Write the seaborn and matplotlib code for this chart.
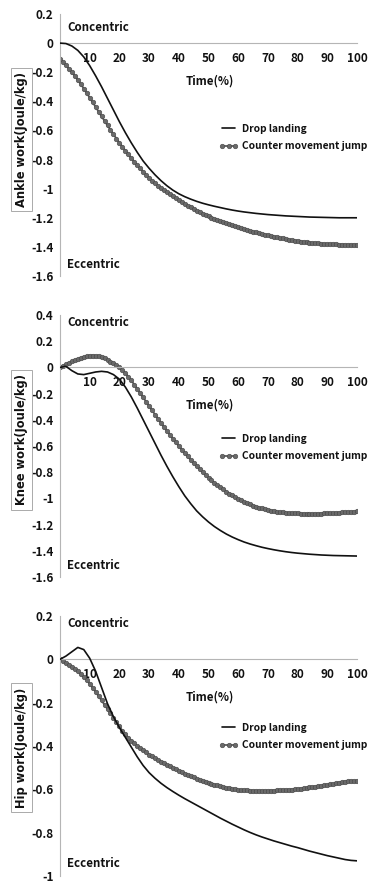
import matplotlib
matplotlib.use("Agg")
import matplotlib.pyplot as plt
import seaborn as sns
import pandas as pd

# ---------------- data ----------------
time_drop = list(range(0, 101, 2))
time_cmj = list(range(0, 101))

ankle_drop = [0, -0.003, -0.02, -0.05, -0.095, -0.155, -0.225, -0.30, -0.38, -0.46,
              -0.54, -0.615, -0.685, -0.75, -0.81, -0.86, -0.905, -0.945, -0.98, -1.01,
              -1.035, -1.055, -1.072, -1.087, -1.10, -1.111, -1.121, -1.13, -1.139, -1.147,
              -1.154, -1.16, -1.165, -1.17, -1.174, -1.178, -1.181, -1.184, -1.187, -1.189,
              -1.191, -1.193, -1.195, -1.196, -1.197, -1.198, -1.199, -1.2, -1.2, -1.2, -1.2]
ankle_cmj = [-0.110, -0.131, -0.153, -0.176, -0.200, -0.225,
             -0.253, -0.282, -0.312, -0.343, -0.375,
             -0.407, -0.439, -0.471, -0.503, -0.535,
             -0.566, -0.597, -0.627, -0.656, -0.685,
             -0.712, -0.739, -0.765, -0.790, -0.815,
             -0.838, -0.861, -0.883, -0.904, -0.925,
             -0.944, -0.962, -0.979, -0.995, -1.010,
             -1.025, -1.039, -1.053, -1.067, -1.080,
             -1.093, -1.105, -1.117, -1.129, -1.140,
             -1.151, -1.161, -1.171, -1.181, -1.190,
             -1.199, -1.207, -1.215, -1.223, -1.230,
             -1.237, -1.244, -1.251, -1.258, -1.265,
             -1.271, -1.277, -1.283, -1.289, -1.295,
             -1.300, -1.305, -1.310, -1.315, -1.320,
             -1.325, -1.329, -1.334, -1.338, -1.342,
             -1.346, -1.350, -1.353, -1.357, -1.360,
             -1.363, -1.365, -1.368, -1.370, -1.372,
             -1.374, -1.376, -1.377, -1.379, -1.380,
             -1.381, -1.382, -1.383, -1.384, -1.384,
             -1.385, -1.385, -1.385, -1.385, -1.385]

knee_drop = [0, 0.008, -0.025, -0.05, -0.055, -0.045, -0.035, -0.03, -0.035, -0.055,
             -0.09, -0.15, -0.225, -0.31, -0.40, -0.49, -0.58, -0.67, -0.755, -0.835,
             -0.91, -0.98, -1.04, -1.095, -1.14, -1.18, -1.215, -1.245, -1.272, -1.295,
             -1.315, -1.333, -1.348, -1.361, -1.373, -1.383, -1.392, -1.4, -1.407, -1.413,
             -1.418, -1.422, -1.426, -1.429, -1.432, -1.434, -1.436, -1.437, -1.438, -1.439, -1.44]
knee_cmj = [0.000, 0.012, 0.024, 0.035, 0.046, 0.056, 0.065, 0.073, 0.080, 0.086, 0.089,
            0.090, 0.088, 0.084, 0.077, 0.068, 0.057, 0.044, 0.030, 0.015,
            0.000, -0.020, -0.044, -0.071, -0.100, -0.131, -0.163, -0.196, -0.229, -0.262, -0.295,
            -0.328, -0.360, -0.392, -0.423, -0.454, -0.484, -0.514, -0.543, -0.572, -0.600,
            -0.627, -0.654, -0.680, -0.705, -0.730, -0.754, -0.777, -0.800, -0.822, -0.843,
            -0.862, -0.881, -0.899, -0.916, -0.932, -0.948, -0.963, -0.977, -0.991, -1.005,
            -1.016, -1.027, -1.037, -1.046, -1.055, -1.063, -1.070, -1.077, -1.083, -1.088,
            -1.093, -1.097, -1.101, -1.104, -1.107, -1.109, -1.111, -1.113, -1.114, -1.115,
            -1.116, -1.117, -1.117, -1.118, -1.118, -1.118, -1.117, -1.116, -1.115, -1.114,
            -1.112, -1.111, -1.110, -1.109, -1.107, -1.106, -1.104, -1.103, -1.101, -1.100]

hip_drop = [0, 0.015, 0.035, 0.055, 0.045, 0.005, -0.055, -0.13, -0.205, -0.265,
            -0.315, -0.36, -0.405, -0.45, -0.49, -0.523, -0.549, -0.572, -0.592, -0.61,
            -0.627, -0.643, -0.658, -0.673, -0.688, -0.703, -0.718, -0.733, -0.747, -0.761,
            -0.774, -0.787, -0.799, -0.81, -0.82, -0.829, -0.838, -0.846, -0.854, -0.862,
            -0.869, -0.877, -0.885, -0.892, -0.899, -0.906, -0.912, -0.918, -0.924, -0.928, -0.93]
hip_cmj = [0.000, -0.008, -0.016, -0.025, -0.035, -0.045, -0.056, -0.068, -0.081, -0.095, -0.113,
           -0.131, -0.150, -0.170, -0.190, -0.210, -0.230, -0.250, -0.270, -0.290, -0.310,
           -0.329, -0.346, -0.361, -0.375, -0.388, -0.399, -0.410, -0.420, -0.430, -0.440,
           -0.448, -0.456, -0.464, -0.472, -0.480, -0.487, -0.494, -0.501, -0.508, -0.515,
           -0.521, -0.527, -0.533, -0.539, -0.545, -0.550, -0.555, -0.560, -0.565, -0.570,
           -0.574, -0.578, -0.582, -0.586, -0.590, -0.593, -0.596, -0.598, -0.600, -0.602,
           -0.603, -0.604, -0.605, -0.606, -0.607, -0.607, -0.607, -0.607, -0.607, -0.607,
           -0.606, -0.606, -0.605, -0.605, -0.604, -0.603, -0.602, -0.601, -0.600, -0.599,
           -0.597, -0.595, -0.593, -0.591, -0.589, -0.587, -0.585, -0.583, -0.581, -0.579,
           -0.577, -0.575, -0.572, -0.569, -0.566, -0.564, -0.563, -0.563, -0.563, -0.563]

series_names = ["Drop landing", "Counter movement jump"]
y_labels = ["Ankle work(Joule/kg)", "Knee work(Joule/kg)", "Hip work(Joule/kg)"]
y_ticks = [[0.2, 0, -0.2, -0.4, -0.6, -0.8, -1, -1.2, -1.4, -1.6],
           [0.4, 0.2, 0, -0.2, -0.4, -0.6, -0.8, -1, -1.2, -1.4, -1.6],
           [0.2, 0, -0.2, -0.4, -0.6, -0.8, -1]]
x_ticks = [10, 20, 30, 40, 50, 60, 70, 80, 90, 100]
x_title = "Time(%)"
top_text = "Concentric"
bottom_text = "Eccentric"

panels = [(ankle_drop, ankle_cmj), (knee_drop, knee_cmj), (hip_drop, hip_cmj)]

# ---------------- style ----------------
sns.set_style("white")
TXT = ["Noto Sans CJK KR", "DejaVu Sans"]
plt.rcParams["font.family"] = TXT

fig = plt.figure(figsize=(3.73, 8.86), dpi=100)
W, H = 373, 886
boxes = [(60, 14, 276), (60, 315, 577), (60, 616, 876)]   # left, top, bottom in px
legend_y = [0.529, 0.494, 0.536]
ylab_y = [0.52, 0.523, 0.494]
conc_y = [0.95, 0.97, 0.972]
ecc_y = [0.042, 0.043, 0.047]

axis_grey = "#b5b5b5"
ink = "#111111"
for i, (drop, cmj) in enumerate(panels):
    left, top, bottom = boxes[i]
    ax = fig.add_axes([left / W, 1 - bottom / H, 297 / W, (bottom - top) / H])
    df_d = pd.DataFrame({"t": time_drop, "v": drop})
    df_c = pd.DataFrame({"t": time_cmj, "v": cmj})
    sns.lineplot(data=df_d, x="t", y="v", ax=ax, color="#111111", lw=1.2,
                 label=series_names[0], zorder=3)
    sns.lineplot(data=df_c, x="t", y="v", ax=ax, color="#5a5a5a", lw=1.3,
                 marker="o", markersize=3.3, markerfacecolor="#6a6a6a",
                 markeredgecolor="#444444", markeredgewidth=0.4,
                 label=series_names[1], zorder=2)

    yt = y_ticks[i]
    ax.set_xlim(0, 100)
    ax.set_ylim(min(yt), max(yt))
    ax.set_yticks(yt)
    ax.set_yticklabels([("%g" % v) for v in yt])
    ax.set_xticks(x_ticks)
    ax.set_xticklabels([str(v) for v in x_ticks])

    for s in ["top", "right"]:
        ax.spines[s].set_visible(False)
    ax.spines["bottom"].set_position(("data", 0))
    ax.spines["bottom"].set_color(axis_grey)
    ax.spines["left"].set_color(axis_grey)
    ax.spines["bottom"].set_linewidth(0.8)
    ax.spines["left"].set_linewidth(0.8)
    ax.tick_params(axis="both", which="both", direction="out", length=3,
                   width=0.8, color=axis_grey, labelsize=8.5, labelcolor=ink)
    ax.tick_params(axis="y", pad=1.5)
    ax.tick_params(axis="x", pad=3.5)
    for lab in ax.get_xticklabels() + ax.get_yticklabels():
        lab.set_fontweight("bold")

    ax.set_xlabel("")
    ax.set_ylabel(y_labels[i], family=["DejaVu Sans"], fontweight="bold", fontsize=8.3,
                  color=ink, va="center",
                  bbox=dict(boxstyle="square,pad=0.35", fc="white", ec="#aaaaaa", lw=0.7))
    ax.yaxis.set_label_coords(-0.13, ylab_y[i])

    ax.annotate(x_title, xy=(50.5, 0), xycoords="data", xytext=(0, -38),
                textcoords="offset pixels", ha="center", va="center",
                fontsize=8.3, fontweight="bold", color=ink)
    ax.text(0.024, conc_y[i], top_text, transform=ax.transAxes, ha="left", va="center",
            fontsize=8.3, fontweight="bold", color=ink)
    ax.text(0.024, ecc_y[i], bottom_text, transform=ax.transAxes, ha="left", va="center",
            fontsize=8.3, fontweight="bold", color=ink)

    leg = ax.legend(loc="center left", bbox_to_anchor=(0.535, legend_y[i]), frameon=False,
                    fontsize=7.3, handlelength=1.9, handletextpad=0.4, numpoints=3,
                    borderpad=0, borderaxespad=0, labelspacing=0.75)
    for t in leg.get_texts():
        t.set_fontweight("bold")
        t.set_color(ink)

fig.savefig("out.png", dpi=100)
